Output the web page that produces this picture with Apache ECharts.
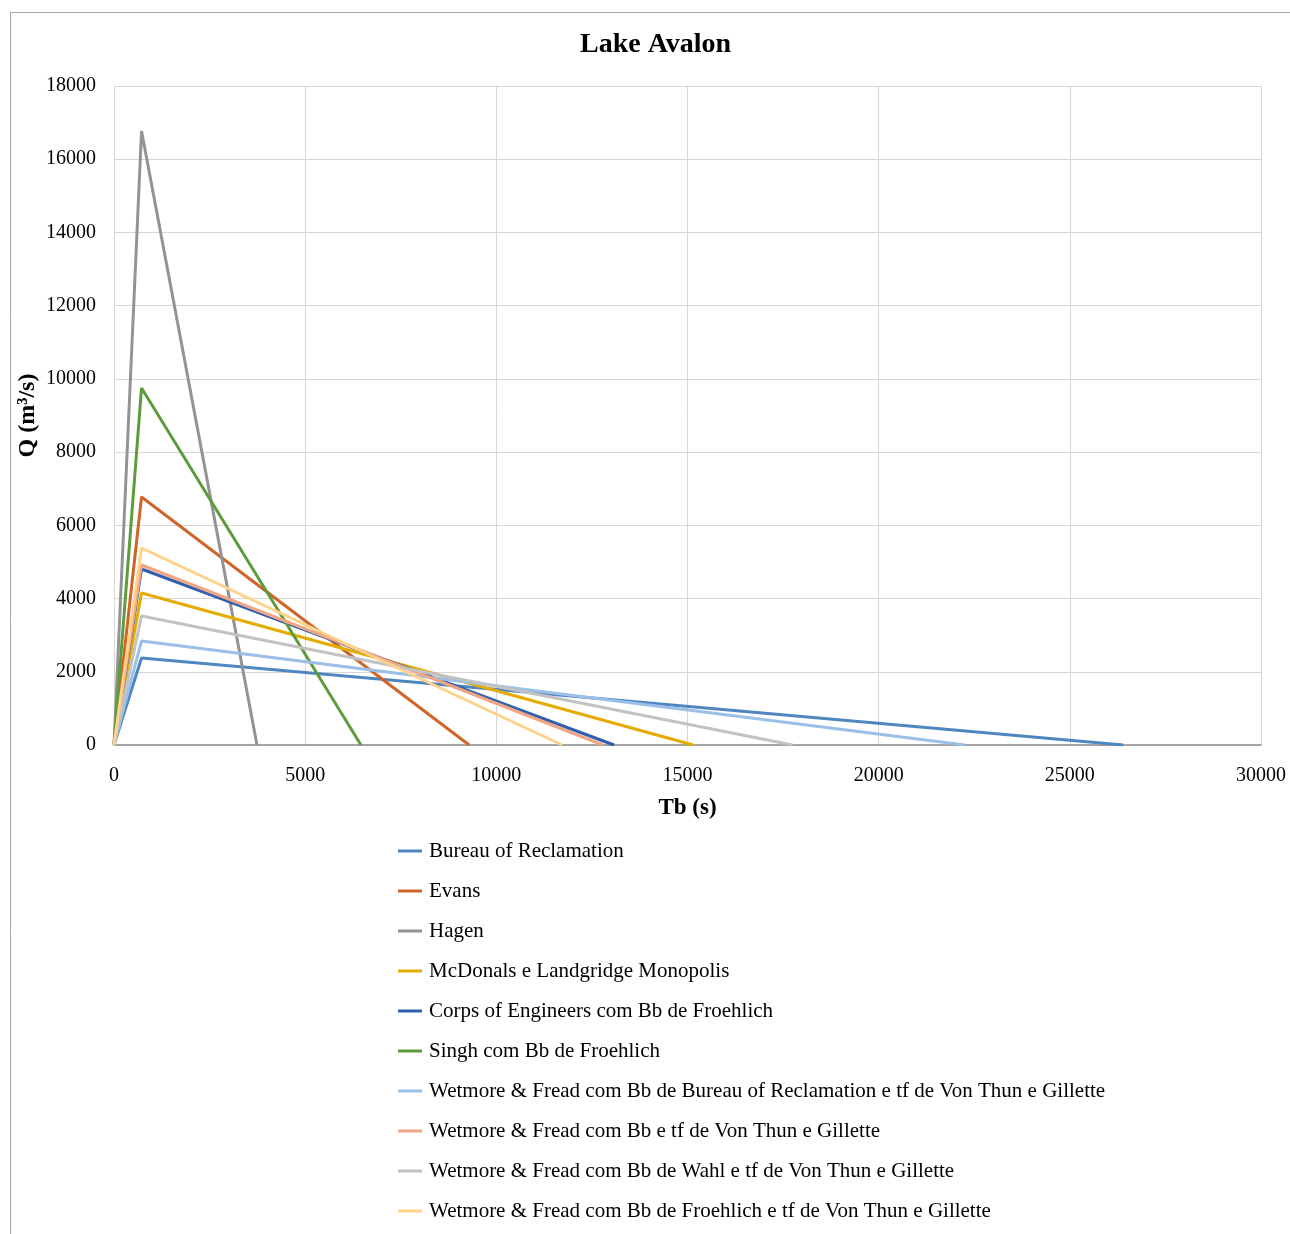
<!DOCTYPE html>
<html>
<head>
<meta charset="utf-8">
<style>
  html, body { margin: 0; padding: 0; background: #fff; }
  #chart { width: 1290px; height: 1234px; }
</style>
<script src="https://cdn.jsdelivr.net/npm/echarts@6/dist/echarts.min.js"></script>
</head>
<body>
<div id="chart"></div>
<script>
// Dam-break triangular hydrographs: Q rises from 0 to the peak at tf, then falls to 0 at Tb
const seriesNames = [
  'Bureau of Reclamation',
  'Evans',
  'Hagen',
  'McDonals e Landgridge Monopolis',
  'Corps of Engineers com Bb de Froehlich',
  'Singh com Bb de Froehlich',
  'Wetmore & Fread com Bb de Bureau of Reclamation e tf de Von Thun e Gillette',
  'Wetmore & Fread com Bb e tf de Von Thun e Gillette',
  'Wetmore & Fread com Bb de Wahl e tf de Von Thun e Gillette',
  'Wetmore & Fread com Bb de Froehlich e tf de Von Thun e Gillette'
];
// time to peak (s)
const peakTime = [720, 720, 720, 720, 720, 720, 720, 720, 720, 720];
// peak discharge (m³/s)
const peakFlow = [2376, 6774, 16770, 4152, 4807, 9751, 2841, 4917, 3524, 5381];
// base time Tb (s)
const baseTime = [26400, 9290, 3740, 15150, 13080, 6460, 22260, 12790, 17750, 11720];

const colors = ['#4F86C0', '#D0652A', '#939393', '#E5AC00', '#2F5FAE',
                '#5E9B3A', '#9BBFE6', '#F0A585', '#C2C2C2', '#FFD28A'];

const serif = '"Liberation Serif", "Times New Roman", serif';

const series = seriesNames.map((name, i) => ({
  name: name,
  type: 'line',
  symbol: 'none',
  smooth: false,
  lineStyle: { width: 3, color: colors[i] },
  itemStyle: { color: colors[i] },
  data: [[0, 0], [peakTime[i], peakFlow[i]], [baseTime[i], 0]]
}));

const plain = v => String(v);

const chart = echarts.init(document.getElementById('chart'), null, { renderer: 'canvas' });
chart.setOption({
  animation: false,
  backgroundColor: '#fff',
  title: {
    text: 'Lake Avalon',
    left: 575,
    top: 26,
    textStyle: { fontFamily: serif, fontSize: 28, fontWeight: 'bold', color: '#000' }
  },
  grid: { left: 114, right: 29, top: 86, bottom: 489, containLabel: false },
  xAxis: {
    type: 'value',
    min: 0, max: 30000, interval: 5000,
    name: 'Tb (s)',
    nameLocation: 'middle',
    nameGap: 52,
    nameMoveOverlap: false,
    nameTextStyle: { fontFamily: serif, fontSize: 23, fontWeight: 'bold', color: '#000' },
    axisLine: { show: true, lineStyle: { color: '#8C8C8C', width: 1.5 } },
    axisTick: { show: false },
    axisLabel: { fontFamily: serif, fontSize: 20, color: '#000', margin: 21, formatter: plain },
    splitLine: { show: true, lineStyle: { color: '#D6D6D6', width: 1 } }
  },
  yAxis: {
    type: 'value',
    min: 0, max: 18000, interval: 2000,
    name: 'Q (m³/s)',
    nameLocation: 'middle',
    nameGap: 74,
    nameMoveOverlap: false,
    nameTextStyle: { fontFamily: serif, fontSize: 24, fontWeight: 'bold', color: '#000' },
    axisLine: { show: false },
    axisTick: { show: false },
    axisLabel: { fontFamily: serif, fontSize: 20, color: '#000', margin: 18, formatter: plain },
    splitLine: { show: true, lineStyle: { color: '#D6D6D6', width: 1 } }
  },
  legend: {
    orient: 'vertical',
    left: 398,
    top: 840,
    padding: 0,
    icon: 'rect',
    itemWidth: 24,
    itemHeight: 3,
    itemGap: 18,
    textStyle: { fontFamily: serif, fontSize: 21, color: '#000', lineHeight: 22, padding: [0, 0, 0, 2] },
    data: seriesNames
  },
  graphic: [{
    type: 'rect',
    shape: { x: 10.5, y: 12.5, width: 1400, height: 1400 },
    style: { fill: 'none', stroke: '#A6A6A6', lineWidth: 1 },
    silent: true
  }],
  series: series
});
</script>
</body>
</html>
